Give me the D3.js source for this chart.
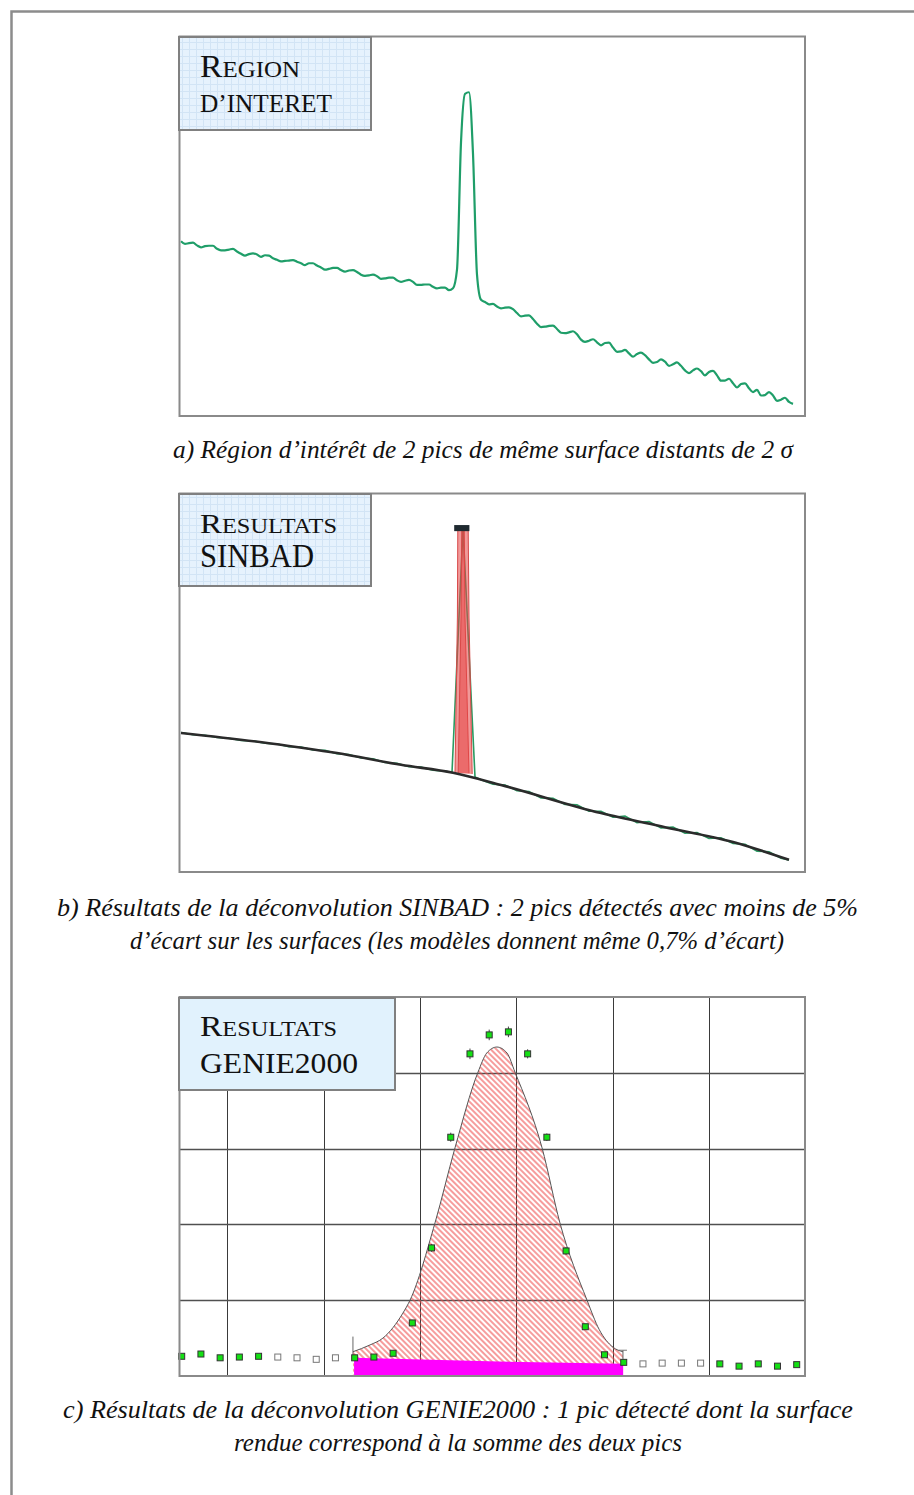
<!DOCTYPE html>
<html><head><meta charset="utf-8">
<script src="https://cdn.jsdelivr.net/npm/d3@7"></script>
<style>body{margin:0;background:#fff}svg{display:block}</style>
</head><body><svg id="page" width="914" height="1495"></svg>
<script>
// ---------- Panel a : region of interest (counts per channel) ----------
const aCounts = [
 460,453,455,456,449,444,447,448,448,440,
 436,436,438,440,433,427,422,426,428,425,
 419,423,422,415,411,407,408,409,410,406,
 402,397,402,402,396,391,385,387,390,390,
 384,380,383,384,379,372,369,370,372,368,
 361,362,364,364,357,353,356,358,353,345,
 345,346,346,340,336,338,338,331,
 336,385,720,848,852,690,372,306,
 300,294,295,288,283,285,286,281,271,262,
 264,265,255,243,234,235,237,238,229,219,
 218,220,223,215,201,195,198,202,194,186,
 192,193,180,169,170,174,165,156,163,167,
 160,149,140,142,149,143,132,136,141,132,
 120,113,120,125,118,107,116,119,107,93,
 93,98,86,75,84,86,73,63,69,54,
 55,63,54,40,43,48,37,32
];
// ---------- Panel b : SINBAD results ----------
const bBaseCh = [0,22,39,55,68,80,105,121,138,152];
const bBaseV  = [366,339,313,282,261,229,155,118,79,32];
const bGreenCh = [0,3,6,9,12,15,18,21,24,27,30,33,36,39,42,45,48,51,54,57,60,63,66,67.75,70.5,73.5,
  75,78,81,84,87,90,93,96,99,102,105,108,111,114,117,120,123,126,129,132,135,138,141,144,147,150,152];
const bGreenV  = [367,361,360,354,352,346,345,339,337,330,329,321,320,311,309,300,298,288,286,277,276,268,265,262,905,250,
  243,231,229,214,212,195,194,178,177,160,160,144,147,130,133,116,118,102,104,88,90,75,73,55,53,36,32];
const bPeak1Ch = [68.5,69.1,69.2,70.8,71.0,72.0];
const bPeak1V  = [261,671,905,905,671,260];
const bPeak2Ch = [69.3,70.0,70.2,71.8,72.0,72.8];
const bPeak2V  = [260,671,905,905,671,258];
const bCapCh = [68.3,72.1];
const bCapV  = [897,913];
// ---------- Panel c : GENIE2000 results ----------
const cCounts = [26,29,24,25,26, 25,24,22,24, 24,25,30,70,169,315,425,450,454,425,315,165,65,28,18, 16,17,17,17, 16,13,16,13,15];
const cType   = ['g','g','g','g','g','h','h','h','h','g','g','g','g','g','g','g','g','g','g','g','g','g','g','g','h','h','h','h','g','g','g','g','g'];
const cErr    = [3,3,3,3,3,3,3,3,3,3,3,3,4,5,6,7,7,7,6,5,5,3,3,3,3,3,3,3,3,3,3,3,3];
const cFitCh = [8.91,9.8,10.47,11.51,11.88,13.18,14.22,15.42,15.87,16.40,16.93,17.34,18.75,19.68,21.09,21.73,22.44,22.96];
const cFitV  = [32,41,50,83,100,202,301,401,426,434,426,401,301,202,100,61,38,32];
const cBaseCh = [8.97,16.5,22.97];
const cBaseV  = [24,19,16];
const cGridX = [2.36,7.38,12.4,17.42,22.44,27.46];
const cGridY = [100,200,300,400];

const svg = d3.select('#page');
const defs = svg.append('defs');
const gp = defs.append('pattern').attr('id','boxgrid').attr('width',7).attr('height',7).attr('patternUnits','userSpaceOnUse');
gp.append('rect').attr('width',7).attr('height',7).attr('fill','#e6f2fd');
gp.append('path').attr('d','M0 0.5H7M0.5 0V7').attr('stroke','#d2e4f5').attr('stroke-width',1);
const hp = defs.append('pattern').attr('id','hatch').attr('width',4).attr('height',4)
  .attr('patternUnits','userSpaceOnUse').attr('patternTransform','rotate(-45)');
hp.append('line').attr('x1',1).attr('y1',0).attr('x2',1).attr('y2',4).attr('stroke','#ee4a4a').attr('stroke-width',1.1);

// outer frame
svg.append('path').attr('d','M11.5 1495V11.5H914').attr('fill','none').attr('stroke','#8c8c8c').attr('stroke-width',2.5);

function frame(x0,y0,x1,y1){
  svg.append('rect').attr('x',x0).attr('y',y0).attr('width',x1-x0).attr('height',y1-y0)
    .attr('fill','none').attr('stroke','#8a8a8a').attr('stroke-width',2);
}
function labelBox(x0,y0,w,h,fill){
  svg.append('rect').attr('x',x0).attr('y',y0).attr('width',w).attr('height',h)
    .attr('fill',fill).attr('stroke','#808080').attr('stroke-width',2);
}
function scLine(x,y,first,rest,s1,s2,len){
  const t = svg.append('text').attr('x',x).attr('y',y).attr('font-family','Liberation Serif, Times New Roman, serif')
    .attr('fill','#111').attr('textLength',len).attr('lengthAdjust','spacingAndGlyphs');
  t.append('tspan').attr('font-size',s1).text(first);
  if(rest) t.append('tspan').attr('font-size',s2).text(rest);
}
function caption(cx,y,txt,len){
  svg.append('text').attr('x',cx).attr('y',y).attr('text-anchor','middle')
    .attr('font-family','Liberation Serif, Times New Roman, serif').attr('font-style','italic')
    .attr('font-size',25).attr('fill','#111').attr('textLength',len).attr('lengthAdjust','spacingAndGlyphs').text(txt);
}

// ===== Panel a =====
const xA = d3.scaleLinear().domain([0,153]).range([181,793]);
const yA = d3.scaleLinear().domain([0,1000]).range([416,36]);
svg.append('path').datum(aCounts)
  .attr('d', d3.line().x((d,i)=>xA(i)).y(d=>yA(d)).curve(d3.curveMonotoneX))
  .attr('fill','none').attr('stroke','#1f9e69').attr('stroke-width',2.2).attr('stroke-linejoin','round');
frame(179.5,36.5,805,416);
labelBox(179,37,192,93,'url(#boxgrid)');
scLine(200,77,'R','EGION',31,23,100);
scLine(200,112,'D’INTERET',null,25,25,132);
caption(483,458,'a) Région d’intérêt de 2 pics de même surface distants de 2 σ',620);

// ===== Panel b =====
const xB = d3.scaleLinear().domain([0,153]).range([181,793]);
const yB = d3.scaleLinear().domain([0,1000]).range([872,492]);
svg.append('path').datum(d3.zip(bGreenCh,bGreenV)).attr('d', d3.line().x(d=>xB(d[0])).y(d=>yB(d[1])))
  .attr('fill','none').attr('stroke','#2a9a62').attr('stroke-width',1.6);
[[bPeak1Ch,bPeak1V],[bPeak2Ch,bPeak2V]].forEach(([c,v])=>{
  svg.append('path').datum(d3.zip(c,v)).attr('d', d3.line().x(d=>xB(d[0])).y(d=>yB(d[1])))
    .attr('fill','rgba(230,70,70,0.55)').attr('stroke','#d84848').attr('stroke-width',1);
});
svg.append('path').datum(d3.zip(bBaseCh,bBaseV))
  .attr('d', d3.line().x(d=>xB(d[0])).y(d=>yB(d[1])).curve(d3.curveMonotoneX))
  .attr('fill','none').attr('stroke','#2b2b2b').attr('stroke-width',2.6);
svg.append('rect').attr('x',xB(bCapCh[0])).attr('y',yB(bCapV[1]))
  .attr('width',xB(bCapCh[1])-xB(bCapCh[0])).attr('height',yB(bCapV[0])-yB(bCapV[1]))
  .attr('fill','#1f2a30');
frame(179.5,493.5,805,872);
labelBox(179,494,192,92,'url(#boxgrid)');
scLine(200,533,'R','ESULTATS',27,20,137);
scLine(200,567,'SINBAD',null,33,33,114);
caption(457.5,916,'b) Résultats de la déconvolution SINBAD : 2 pics détectés avec moins de 5%',801);
caption(457,949,'d’écart sur les surfaces (les modèles donnent même 0,7% d’écart)',654);

// ===== Panel c =====
const xC = d3.scaleLinear().domain([0,32]).range([181.7,796.7]);
const yC = d3.scaleLinear().domain([0,500]).range([1376,997]);
const gc = svg.append('g');
gc.selectAll('.gx').data(cGridX).join('line').attr('x1',d=>Math.round(xC(d))+0.5).attr('x2',d=>Math.round(xC(d))+0.5)
  .attr('y1',997).attr('y2',1376).attr('stroke','#3a3a3a').attr('stroke-width',1);
gc.selectAll('.gy').data(cGridY).join('line').attr('y1',d=>Math.round(yC(d))+0.5).attr('y2',d=>Math.round(yC(d))+0.5)
  .attr('x1',179).attr('x2',805).attr('stroke','#505050').attr('stroke-width',1.3);
const fit = d3.zip(cFitCh,cFitV);
svg.append('path').datum(fit)
  .attr('d', d3.area().x(d=>xC(d[0])).y0(yC(0)).y1(d=>yC(d[1])).curve(d3.curveMonotoneX))
  .attr('fill','url(#hatch)');
svg.append('path').datum(fit)
  .attr('d', d3.line().x(d=>xC(d[0])).y(d=>yC(d[1])).curve(d3.curveMonotoneX))
  .attr('fill','none').attr('stroke','#555').attr('stroke-width',1);
svg.append('path').datum(d3.zip(cBaseCh,cBaseV))
  .attr('d', d3.area().x(d=>xC(d[0])).y0(yC(0)).y1(d=>yC(d[1])))
  .attr('fill','#ff00ff');
// ROI markers
svg.append('line').attr('x1',xC(cFitCh[0])).attr('x2',xC(cFitCh[0])).attr('y1',yC(25)).attr('y2',yC(52)).attr('stroke','#666').attr('stroke-width',1);
svg.append('line').attr('x1',xC(cFitCh[cFitCh.length-1])).attr('x2',xC(cFitCh[cFitCh.length-1])).attr('y1',yC(17)).attr('y2',yC(34)).attr('stroke','#666').attr('stroke-width',1);
svg.append('line').attr('x1',xC(cFitCh[cFitCh.length-1])-4).attr('x2',xC(cFitCh[cFitCh.length-1])+4).attr('y1',yC(34)).attr('y2',yC(34)).attr('stroke','#777').attr('stroke-width',1);
// error bars + points
const pts = cCounts.map((v,i)=>({i,v,t:cType[i],e:cErr[i]}));
svg.selectAll('.eb').data(pts.filter(p=>p.t==='g')).join('line')
  .attr('x1',p=>xC(p.i)).attr('x2',p=>xC(p.i)).attr('y1',p=>yC(p.v+p.e)).attr('y2',p=>yC(p.v-p.e))
  .attr('stroke','#444').attr('stroke-width',1);
svg.selectAll('.pt').data(pts).join('rect')
  .attr('x',p=>xC(p.i)-3).attr('y',p=>yC(p.v)-3).attr('width',6).attr('height',6)
  .attr('fill',p=>p.t==='g'?'#14e014':'#fff').attr('stroke',p=>p.t==='g'?'#333':'#777').attr('stroke-width',1);
frame(179.5,997,805,1376);
labelBox(179,998,216,92,'#e1f2fd');
scLine(200,1036,'R','ESULTATS',29,21,137);
scLine(200,1073,'GENIE2000',null,29,29,158);
caption(458,1418,'c) Résultats de la déconvolution GENIE2000 : 1 pic détecté dont la surface',790);
caption(458,1451,'rendue correspond à la somme des deux pics',448);
</script></body></html>
